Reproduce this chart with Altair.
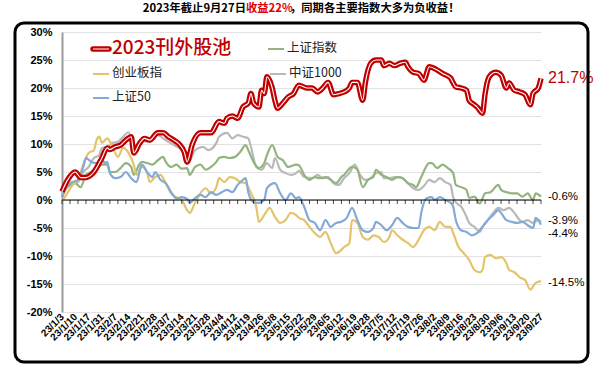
import altair as alt
import pandas as pd

# ---------------- data ----------------
date_labels = ['23/1/3','23/1/10','23/1/17','23/1/31','23/2/7','23/2/14','23/2/21','23/2/28',
               '23/3/7','23/3/14','23/3/21','23/3/28','23/4/4','23/4/12','23/4/19','23/4/26',
               '23/5/8','23/5/15','23/5/22','23/5/29','23/6/5','23/6/12','23/6/19','23/6/28',
               '23/7/5','23/7/12','23/7/19','23/7/26','23/8/2','23/8/9','23/8/16','23/8/23',
               '23/8/30','23/9/6','23/9/13','23/9/20','23/9/27']

series_names = ['2023刊外股池', '上证指数', '创业板指', '中证1000', '上证50']
series_colors = ['#c00000', '#93b47f', '#e3c46a', '#b9b9b9', '#82aad8']
end_labels = ['21.7%', '-0.6%', '-14.5%', '-3.9%', '-4.4%']

red_days = [0,2,5,7,9,11,12,15,17,18,20,22,24,26,27,29,31,33,36,38,40,42,44,46,47,49,52,55,56,59,
            61,62,64,66,68,70,71,72,74,75,76,77,79,80,81,83,85,87,89,92,94,96,98,100,102,104,106,108,109,111,
            113,114,116,118,120,121,123,125,127,129,130,132,134,136,138,141,143,146,147,148,
            150,152,153,155,156,158,159,160,161,163,165,167,168,170,172,174,176,177,179,180]
red_vals = [1.5,3.5,5,4,4,4.5,5,7.5,9.3,9,9.5,9.8,10.7,11.3,8.4,10,11,10.7,12,12,
            11.3,10.7,10,8.5,6.8,10,12,12,12,14,13.7,14.6,15,14.6,16.6,17.3,19,17.3,16.6,19.6,
            19,22,20,17.8,16.4,17.3,18.4,19,20.5,20,20,19.3,20,21,18.8,19,19.3,20,21,21,
            17.8,21,24.4,25,25,24,24.4,24,24.4,24.6,23.8,22.8,22.6,21.4,23.8,23.2,22.6,21.8,20.9,20.2,
            20,19.6,17.8,17,16.6,15.5,19,21.4,22.3,22.8,22.3,20,20.9,19.6,19.3,18.8,17,19,20,21.7]

green_days = [0,2,5,7,9,11,13,15,17,18,20,22,24,26,27,29,30,32,34,36,38,39,41,43,45,47,48,50,52,54,
              56,58,59,61,63,65,67,69,70,72,74,76,77,79,81,83,85,88,89,91,93,95,97,99,101,103,105,106,109,111,
              113,115,117,118,120,122,124,126,128,130,132,133,135,138,139,141,143,145,147,148,
              150,152,153,155,157,159,161,164,165,167,169,171,173,175,177,178,180]
green_vals = [0.5,2.3,3,2.3,4.5,5,5.7,6.3,6.3,5,5,5.7,6.6,5.9,4.5,6.3,6.8,6.6,6.3,7.1,
              7.7,6.8,5.9,6.3,5.6,5.7,4.5,5.9,6.3,5.4,5.9,6.8,7.5,7.7,7.5,7.7,8.6,9.8,8.9,6.8,
              5.7,6.6,8,9.8,7.7,7.1,5.9,6.3,6.2,4.5,3.6,4.1,3.9,4.1,3.6,3,4.1,4.5,5.9,5.4,
              2.3,3.6,4.1,5.4,4.5,4.1,3.6,4.1,3.9,3,2.7,2.3,4.1,6.6,6.6,5.7,6.3,5.7,4.8,2.7,
              2.3,1.8,0.4,0.6,-0.6,1.2,1.4,2.7,1.8,1.4,1.2,1.2,0.6,1.2,0,1.2,0.6]

gray_days = [0,2,6,8,10,12,14,15,17,19,21,23,25,27,29,30,32,34,36,38,40,42,44,45,47,48,50,53,55,58,
             59,62,64,66,68,70,71,73,75,77,79,80,82,84,86,88,89,91,94,96,98,100,102,104,106,108,110,112,114,116,
             118,120,121,123,125,127,130,132,134,136,138,140,142,144,146,147,148,150,152,153,
             155,157,158,160,162,164,166,168,170,172,173,175,177,179,180]
gray_vals = [0.8,2.7,3.2,5,5.9,7.5,8,9.3,9.5,10.2,10.4,11.3,12.1,9.5,10.2,10.7,10.4,10.7,11.6,11,
             10.4,9.8,9.3,8.9,7.7,7.1,8.9,9.5,8.9,10.2,11.3,12,11,11.6,11.3,11,9.5,5.9,5.4,6.6,
             5.7,7.5,5.4,4.8,4.5,4.8,5.2,4.1,3.9,4.5,3.9,4.1,3,2.7,3.9,4.8,6.3,4.5,3.6,3.9,
             4.8,5,3.9,3.9,4.1,4.1,3,2.1,1.8,2.5,3.6,3.2,3.9,3.2,2.7,0.5,-0.4,-1.2,-3,-4.1,
             -4.8,-5.7,-4.8,-3.6,-2.3,-1.4,-1.8,-1.4,-2.3,-3.6,-3.9,-3.6,-4.1,-3.6,-3.9]

blue_days = [0,1,3,6,8,9,11,13,15,16,17,18,20,22,24,26,28,30,32,34,35,37,39,41,43,45,47,48,50,52,
             54,56,58,60,62,64,66,68,69,70,72,74,76,77,80,82,84,86,88,89,91,93,95,97,99,101,103,105,107,109,
             111,113,115,117,118,120,122,124,126,128,130,132,134,135,137,139,140,142,144,146,
             147,148,150,152,154,156,158,160,162,164,165,167,169,171,173,175,177,178,180]
blue_vals = [0.5,1.8,3,3.6,5.9,7.5,6.8,6.6,7.5,6.6,6.8,4.8,3.9,4.1,5,3.9,3.2,6.3,5,4.1,
             5,3.6,3,1.4,0.3,0.5,0.2,-0.5,0.3,0.9,0.5,1.4,0.9,1.4,1.8,1.4,2.7,3.6,3.9,1.4,
             -0.4,-0.5,0,2.1,3,1.2,0,1.2,0.3,0.5,-1.2,-3.6,-4.1,-5.4,-3.6,-4.8,-4.1,-3.9,-3.2,-1.4,
             -3.6,-5.4,-5.7,-5,-3.9,-4.5,-5.4,-4.5,-3.2,-4.1,-4.8,-5,-5,-2.3,0.3,0.5,0,0.5,0,-0.5,
             -1.2,-3.6,-5.4,-5.7,-6.3,-5.9,-4.8,-3.6,-2.7,-1.8,-2.3,-3.6,-3.9,-4.1,-3.9,-4.5,-5,-3.2,-4.4]

yellow_days = [0,2,4,6,8,10,12,13,14,15,17,19,21,23,25,27,28,30,32,33,35,37,39,41,43,45,47,48,50,52,
               54,56,58,59,61,63,65,67,69,71,73,74,76,78,80,82,84,86,88,89,91,93,95,97,99,101,103,105,106,108,
               109,111,113,115,117,119,121,123,124,126,128,130,132,134,136,138,140,142,144,146,
               147,149,151,153,155,157,158,159,161,163,165,167,168,170,172,174,176,178,180]
yellow_vals = [-0.3,1.2,2.7,3.6,6.3,8.4,8.9,10.7,11.3,10.2,11,9.5,7.7,9.3,8.4,6.3,4.5,5.9,4.8,3.2,
               4.1,4.5,3,1.2,0.5,0,-1.8,-2.3,-0.5,1.2,2.1,1.2,2.3,3.9,3.2,4.1,3.9,3.2,3,1.2,
               -1.2,-3.9,-2.7,-1.4,-3,-4.1,-3.6,-2.3,-2.7,-3.2,-3.6,-4.8,-5.9,-6.6,-5.7,-7.7,-9.5,-8.9,-8.4,-7.7,
               -3.6,-4.1,-6.6,-7.1,-6.3,-6.6,-7.5,-6.6,-5.4,-6.3,-7.1,-7.7,-8.4,-7.1,-5.4,-4.8,-5.4,-3.9,-4.8,-4.8,
               -5.9,-8.4,-9.5,-10.7,-12.5,-12.9,-12.5,-10.2,-9.8,-10.4,-10.2,-11.3,-12.5,-12.9,-13.8,-14.3,-16,-14.8,-14.5]

tick_days = list(range(0, 181, 3))

# ---------------- tables ----------------
def frame(name, days, vals):
    return pd.DataFrame({'series': name, 'day': days, 'value': vals})

red_df = frame(series_names[0], red_days, red_vals)
thin_df = pd.concat([
    frame(series_names[3], gray_days, gray_vals),
    frame(series_names[1], green_days, green_vals),
    frame(series_names[2], yellow_days, yellow_vals),
    frame(series_names[4], blue_days, blue_vals),
])
ends = pd.DataFrame({
    'series': series_names,
    'label': end_labels,
    'value': [red_vals[-1], green_vals[-1], yellow_vals[-1], gray_vals[-1], blue_vals[-1]],
    'day': [180] * 5,
})

label_expr = "[" + ",".join("'%s'" % d for d in date_labels) + "][round(datum.value / 5)]"

X = alt.X('day:Q', title=None,
          scale=alt.Scale(domain=[0, 180], nice=False, zero=False),
          axis=alt.Axis(values=list(range(0, 181, 5)), labelExpr=label_expr,
                        labelAngle=315, labelAlign='right', labelBaseline='middle',
                        labelOverlap=False, labelFlush=False, labelPadding=3, labelBound=False,
                        labelFont='Liberation Sans', labelFontSize=10, labelFontWeight='bold',
                        labelColor='#000000', domain=False, ticks=False, grid=False))
Y = alt.Y('value:Q', title=None,
          scale=alt.Scale(domain=[-20, 30], nice=False, zero=False),
          axis=alt.Axis(values=list(range(-20, 31, 5)), labelExpr="datum.value + '%'",
                        labelFont='Liberation Sans', labelFontSize=11, labelFontWeight='bold',
                        labelColor='#000000', labelPadding=10, ticks=False,
                        domainColor='#9a9a9a', domainWidth=2,
                        grid=True, gridColor='#e2e2e2', gridWidth=1))

color_scale = alt.Scale(domain=series_names, range=series_colors)

thin = alt.Chart(thin_df).mark_line(strokeWidth=2.2, interpolate='monotone').encode(
    x=X, y=Y,
    color=alt.Color('series:N', scale=color_scale, legend=None),
    detail='series:N',
)

zero_line = alt.Chart(pd.DataFrame({'value': [0]})).mark_rule(color='#000000', strokeWidth=1).encode(y=Y)
ticks = alt.Chart(pd.DataFrame({'day': tick_days, 'value': 0})).mark_tick(
    orient='vertical', size=4, thickness=1, color='#000000', yOffset=2).encode(x=X, y=Y)

red_outer = alt.Chart(red_df).mark_line(color='#c00000', strokeWidth=5.5, interpolate='monotone').encode(x=X, y=Y)
red_inner = alt.Chart(red_df).mark_line(color='#ffffff', strokeWidth=1.1, interpolate='monotone').encode(x=X, y=Y)

end_layers = []
end_dy = [0, 0, 2, -1, 9]
for i in range(5):
    end_layers.append(alt.Chart(ends.iloc[[i]]).mark_text(
        align='left', baseline='middle', dx=7, dy=end_dy[i], font='Liberation Sans',
        fontSize=16 if i == 0 else 11.5, color='#c00000' if i == 0 else '#000000').encode(
        x=X, y=Y, text='label:N'))

# ---------------- legend (drawn) ----------------
legend_layers = []
leg_x = [31, 206, 31, 208, 31]
leg_y = [16, 16, 41, 41, 65]
for i, name in enumerate(series_names):
    sx, sy = leg_x[i], leg_y[i]
    src = alt.Chart(pd.DataFrame({'t': [name]}))
    if i == 0:
        legend_layers.append(src.mark_rule(color='#c00000', strokeWidth=5.5, strokeCap='round').encode(
            x=alt.value(sx), x2=alt.value(sx + 16), y=alt.value(sy + 1)))
        legend_layers.append(src.mark_rule(color='#ffffff', strokeWidth=1).encode(
            x=alt.value(sx), x2=alt.value(sx + 16), y=alt.value(sy + 1)))
        legend_layers.append(src.mark_text(align='left', baseline='middle', font='Noto Sans CJK SC',
                                           fontSize=19, fontWeight=500, color='#c00000').encode(
            x=alt.value(sx + 19), y=alt.value(sy), text='t:N'))
    else:
        legend_layers.append(src.mark_rule(color=series_colors[i], strokeWidth=2).encode(
            x=alt.value(sx), x2=alt.value(sx + 16), y=alt.value(sy + 1)))
        legend_layers.append(src.mark_text(align='left', baseline='middle', font='Noto Sans CJK SC',
                                           fontSize=12.5, color='#222222').encode(
            x=alt.value(sx + 19), y=alt.value(sy), text='t:N'))

# ---------------- outer frame + title ----------------
box = alt.Chart(pd.DataFrame({'a': [0]})).mark_rect(
    fill=None, stroke='#000000', strokeWidth=3, cornerRadius=9).encode(
    x=alt.value(-47), x2=alt.value(526), y=alt.value(-9), y2=alt.value(330))

title_parts = pd.DataFrame({'t': ['2023年截止9月27日', '收益22%', '，同期各主要指数大多为负收益！']})
tkw = dict(baseline='middle', font='Noto Sans CJK SC', fontSize=11.3, fontWeight='bold')
t1 = alt.Chart(title_parts.iloc[[0]]).mark_text(align='right', color='#000000', **tkw).encode(
    x=alt.value(184), y=alt.value(-23), text='t:N')
t2 = alt.Chart(title_parts.iloc[[1]]).mark_text(align='left', color='#e00000', **tkw).encode(
    x=alt.value(184), y=alt.value(-23), text='t:N')
t3 = alt.Chart(title_parts.iloc[[2]]).mark_text(align='left', color='#000000', **tkw).encode(
    x=alt.value(228), y=alt.value(-23), text='t:N')

chart = alt.layer(
    thin, zero_line, ticks, red_outer, red_inner, *end_layers,
    *legend_layers, box, t1, t2, t3
).properties(
    width=479, height=280,
    autosize=alt.AutoSizeParams(type='none'),
    padding={'left': 62, 'top': 32, 'right': 59, 'bottom': 58},
    background='#ffffff',
).configure_view(stroke=None)

chart.save('out.html', embed_options={'renderer': 'svg', 'actions': False})
